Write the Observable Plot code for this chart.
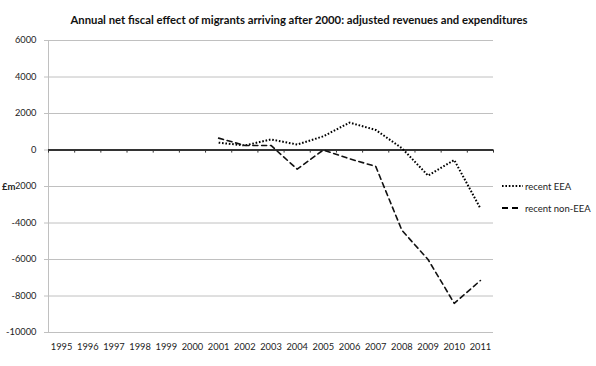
<!DOCTYPE html>
<html>
<head>
<meta charset="utf-8">
<script src="https://cdn.jsdelivr.net/npm/d3@7"></script>
<script src="https://cdn.jsdelivr.net/npm/@observablehq/plot@0.6"></script>
<style>
  html, body { margin: 0; padding: 0; background: white; }
  #wrap { position: relative; width: 596px; height: 366px; font-family: Lato, "Open Sans", sans-serif; }
  #legend { position: absolute; left: 501px; top: 175px; font-size: 9.5px; color: #222; }
  .item { display: flex; align-items: center; height: 22px; }
  .item svg { margin-right: 2px; }
</style>
</head>
<body>
<div id="wrap">
  <div id="chart"></div>
  <div id="legend"></div>
</div>
<script>
const title = "Annual net fiscal effect of migrants arriving after 2000: adjusted revenues and expenditures";
const years = [1995, 1996, 1997, 1998, 1999, 2000, 2001, 2002, 2003, 2004, 2005, 2006, 2007, 2008, 2009, 2010, 2011];
const recentEEA =    [null, null, null, null, null, null, 400, 250, 580, 300, 750, 1500, 1100, 100, -1400, -550, -3200];
const recentNonEEA = [null, null, null, null, null, null, 650, 250, 250, -1050, 0, -480, -900, -4400, -6000, -8400, -7150];
const yTicks = [-10000, -8000, -6000, -4000, -2000, 0, 2000, 4000, 6000];
const seriesNames = ["recent EEA", "recent non-EEA"];
const yUnit = "£m";

const eeaRows = years.map((x, i) => ({x, y: recentEEA[i]})).filter(d => d.y != null);
const nonRows = years.map((x, i) => ({x, y: recentNonEEA[i]})).filter(d => d.y != null);
const bounds = years.map(y => y - 0.5).concat([years[years.length - 1] + 0.5]);
const x0 = years[0] - 0.5, x1 = years[years.length - 1] + 0.5;

const dotted = "1.6,1.8";
const dashed = "5,3.8";

const chart = Plot.plot({
  width: 596,
  height: 366,
  marginLeft: 48,
  marginRight: 103,
  marginTop: 40,
  marginBottom: 34,
  style: {fontFamily: "Lato, 'Open Sans', sans-serif", fontSize: "9.3px", color: "#222", background: "white", overflow: "visible"},
  x: {domain: [x0, x1]},
  y: {domain: [yTicks[0], yTicks[yTicks.length - 1]]},
  marks: [
    Plot.gridY(yTicks, {stroke: "#c0c0c0", strokeOpacity: 1, strokeWidth: 1}),
    Plot.axisY(yTicks, {tickSize: 4, tickPadding: 8, stroke: "#c0c0c0", strokeOpacity: 1, fill: "#222", label: null, tickFormat: d => String(d)}),
    Plot.axisX(years, {tickSize: 0, tickPadding: 11, label: null, fill: "#222", tickFormat: d => String(d)}),
    Plot.ruleX([x0], {y1: yTicks[0], y2: yTicks[yTicks.length - 1], stroke: "#c0c0c0", strokeWidth: 1}),
    Plot.ruleY([0], {x1: x0, x2: x1, stroke: "#333", strokeWidth: 2}),
    Plot.ruleX(bounds, {y1: 0, y2: -170, stroke: "#333", strokeWidth: 1}),
    Plot.line(eeaRows, {x: "x", y: "y", stroke: "#000", strokeWidth: 2, strokeDasharray: dotted, strokeLinecap: "butt"}),
    Plot.line(nonRows, {x: "x", y: "y", stroke: "#111", strokeWidth: 1.6, strokeDasharray: dashed}),
    Plot.text([yUnit], {x: x0, y: -2000, dx: -33, textAnchor: "end", fontWeight: "bold", fontSize: 9.5, fill: "#222", stroke: "white", strokeWidth: 1.5, paintOrder: "stroke"}),
    Plot.text([title], {frameAnchor: "top", dy: -25, dx: 28, fontWeight: "bold", fontSize: 11.3, fill: "#111"})
  ]
});
document.getElementById("chart").appendChild(chart);

const legend = document.getElementById("legend");
[dotted, dashed].forEach((dash, i) => {
  const item = document.createElement("div");
  item.className = "item";
  item.innerHTML = `<svg width="22" height="6"><line x1="1" x2="${i === 0 ? 22 : 19}" y1="3" y2="3" stroke="#000" stroke-width="2" stroke-dasharray="${i === 0 ? dotted : '6,4'}"/></svg><span>${seriesNames[i]}</span>`;
  legend.appendChild(item);
});
</script>
</body>
</html>
